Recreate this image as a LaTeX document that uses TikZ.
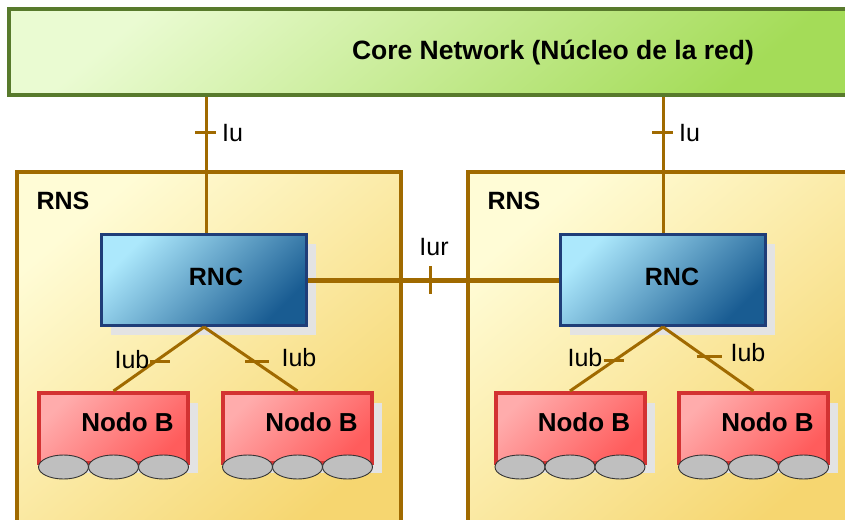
\documentclass[tikz,border=0pt]{standalone}
\usepackage{fontspec}
\setmainfont{Liberation Sans}
\usetikzlibrary{shadows,shapes.geometric}
\definecolor{linkbrown}{HTML}{A06A00}
\definecolor{coreedge}{HTML}{587A2C}
\definecolor{corelight}{HTML}{EAFBD2}
\definecolor{coredark}{HTML}{A4DC58}
\definecolor{rnslight}{HTML}{FFFCD6}
\definecolor{rnsdark}{HTML}{F6D670}
\definecolor{rnclight}{HTML}{ACE8FC}
\definecolor{rncdark}{HTML}{195C92}
\definecolor{rncedge}{HTML}{1F3D78}
\definecolor{nodeblight}{HTML}{FFACAC}
\definecolor{nodebdark}{HTML}{FF5C5C}
\definecolor{nodebedge}{HTML}{D33232}
\begin{document}
\begin{tikzpicture}[x=1pt,y=-1pt,
    every node/.style={inner sep=0pt},
    bigtext/.style={font=\bfseries\fontsize{25}{30}\selectfont},
    linktext/.style={font=\fontsize{25}{30}\selectfont},
    corebox/.style={draw=coreedge, line width=4pt, top color=corelight, bottom color=coredark, shading angle=40, minimum width=851pt, minimum height=86pt},
    rnsbox/.style={draw=linkbrown, line width=3.5pt, top color=rnslight, bottom color=rnsdark, shading angle=40, minimum width=384pt, minimum height=368pt},
    rncbox/.style={draw=rncedge, line width=3pt, top color=rnclight, bottom color=rncdark, shading angle=45, minimum width=205pt, minimum height=91pt,
        drop shadow={shadow xshift=9pt, shadow yshift=-9pt, fill=black!11, opacity=1}},
    nodebbox/.style={draw=nodebedge, line width=4pt, top color=nodeblight, bottom color=nodebdark, shading angle=45, minimum width=149pt, minimum height=70pt,
        drop shadow={shadow xshift=10pt, shadow yshift=-10pt, fill=black!11, opacity=1}},
    wheel/.style={ellipse, draw=black!80, line width=0.9pt, fill=black!25, minimum width=50pt, minimum height=24pt},
    iuline/.style={draw=linkbrown, line width=3pt},
    iurline/.style={draw=linkbrown, line width=5pt},
    iubline/.style={draw=linkbrown, line width=3pt},
    tick/.style={draw=linkbrown, line width=3pt}
  ]
  \useasboundingbox (0,0) rectangle (845,519);
  \clip (0,0) rectangle (845,519);

  \node[corebox] (core) at (434.5,52) {};
  \node[bigtext, font=\bfseries\fontsize{26.5}{30}\selectfont] (corelbl) at (553,53) {Core Network (Núcleo de la red)};

  \node[rnsbox] (rnsL) at (209,356) {};
  \node[rnsbox, minimum width=392pt] (rnsR) at (664,356) {};
  \node[bigtext] (rnsLlbl) at (63,201) {RNS};
  \node[bigtext] (rnsRlbl) at (514,201) {RNS};

  \draw[iuline] (206,234.5) coordinate (iuLend) -- (iuLend |- core.south) coordinate[pos=0.74] (iuL);
  \draw[iuline] (663,234.5) coordinate (iuRend) -- (iuRend |- core.south) coordinate[pos=0.74] (iuR);

  \node[rncbox] (rncL) at (204,280) {};
  \node[rncbox] (rncR) at (663,280) {};
  \node[bigtext] (rncLlbl) at (216,277) {RNC};
  \node[bigtext] (rncRlbl) at (672,277) {RNC};

  \draw[tick] ([xshift=-11pt]iuL) -- ([xshift=10pt]iuL);
  \draw[tick] ([xshift=-11pt]iuR) -- ([xshift=10pt]iuR);
  \node[linktext, right=16pt] (iuLlbl) at (iuL) {Iu};
  \node[linktext, right=16pt] (iuRlbl) at (iuR) {Iu};

  \draw[iurline] (rncL.east) -- (rncR.west) coordinate[pos=0.49] (iur);
  \draw[tick] ([yshift=14pt]iur) -- ([yshift=-14pt]iur);
  \node[linktext] (iurlbl) at (434,247) {Iur};

  \node[nodebbox] (nbL1) at (113.5,428) {};
  \node[nodebbox] (nbL2) at (297.5,428) {};
  \node[nodebbox] (nbR1) at (570,428) {};
  \node[nodebbox] (nbR2) at (753.5,428) {};
  \foreach \nb in {nbL1,nbL2,nbR1,nbR2} {
    \node[bigtext, font=\bfseries\fontsize{26}{30}\selectfont] (\nb lbl) at ([xshift=14pt, yshift=6pt]\nb.center) {Nodo B};
    \foreach \k/\dx in {1/-50,2/0,3/50}
      \node[wheel] (\nb w\k) at ([xshift=\dx pt, yshift=-2pt]\nb.south) {};
  }

  \draw[iubline] (rncL.south) -- (nbL1.north) coordinate[pos=0.54] (iubL1);
  \draw[iubline] (rncL.south) -- (nbL2.north) coordinate[pos=0.54] (iubL2);
  \draw[iubline] (rncR.south) -- (nbR1.north) coordinate[pos=0.52] (iubR1);
  \draw[iubline] (rncR.south) -- (nbR2.north) coordinate[pos=0.46] (iubR2);
  \draw[tick] ([xshift=-5pt]iubL1) -- ([xshift=15pt]iubL1);
  \draw[tick] ([xshift=-9pt]iubL2) -- ([xshift=15pt]iubL2);
  \draw[tick] ([xshift=-11pt]iubR1) -- ([xshift=9pt]iubR1);
  \draw[tick] ([xshift=-8pt]iubR2) -- ([xshift=17pt]iubR2);
  \node[linktext] (iubL1lbl) at (132,360) {Iub};
  \node[linktext] (iubL2lbl) at (299,358) {Iub};
  \node[linktext] (iubR1lbl) at (585,358) {Iub};
  \node[linktext] (iubR2lbl) at (748,353) {Iub};
\end{tikzpicture}
\end{document}
